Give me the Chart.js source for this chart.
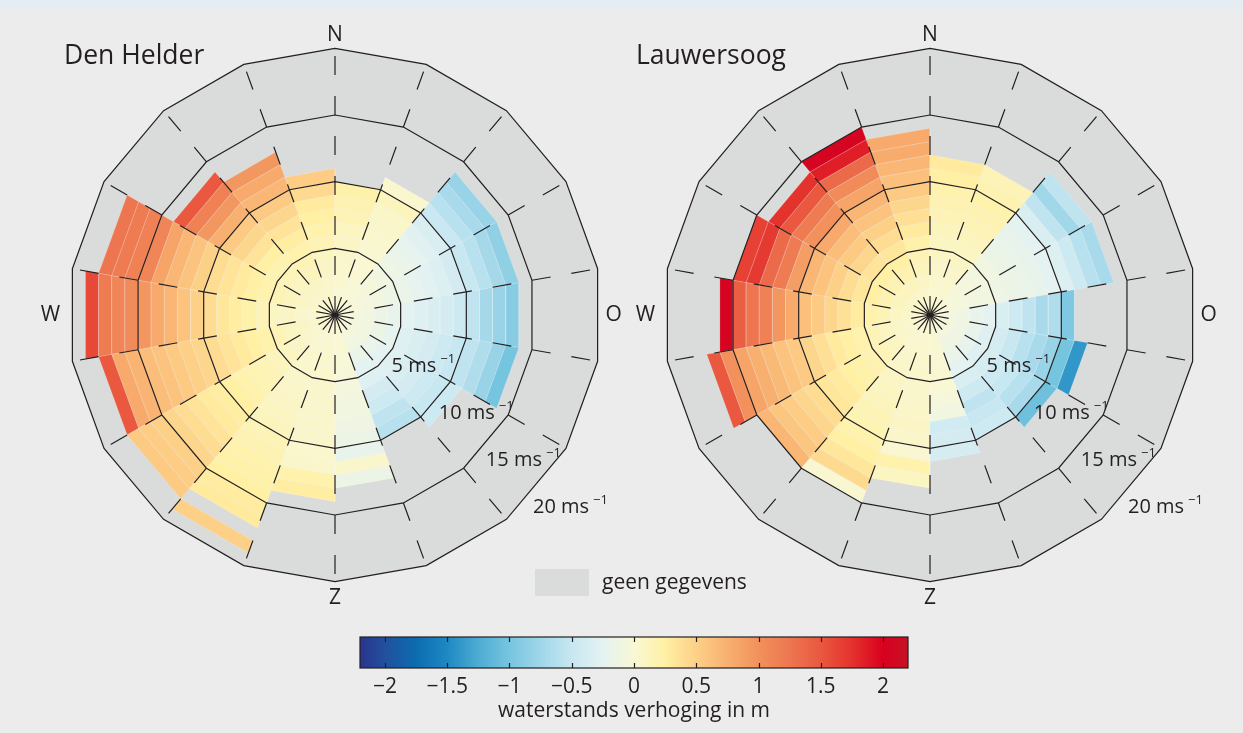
<!DOCTYPE html>
<html lang="nl">
<head>
<meta charset="utf-8">
<title>Waterstandsverhoging naar windrichting en windsnelheid</title>
<script src="https://cdn.jsdelivr.net/npm/chart.js@4.4.1/dist/chart.umd.min.js"></script>
<style>
  html, body { margin: 0; padding: 0; }
  body {
    width: 1243px; height: 733px; position: relative; overflow: hidden;
    background: #ececec; font-family: 'Open Sans', sans-serif; color: #231f20;
  }
  #topband { position: absolute; left: 0; top: 0; width: 1243px; height: 9px; background: #e6edf2; }
  canvas { position: absolute; }
  #rose-dh { left: 35px; top: 15px; }
  #rose-lw { left: 630px; top: 15px; }
  #cbar { left: 300px; top: 540px; }
  #nodata-swatch { position: absolute; left: 535px; top: 569px; width: 54px; height: 27px; background: #dadcdc; }
  #nodata-text { position: absolute; left: 602px; top: 567px; font-size: 21px; line-height: 28px; }
</style>
</head>
<body>
<div id="topband"></div>
<canvas id="rose-dh" width="600" height="600"></canvas>
<canvas id="rose-lw" width="600" height="600"></canvas>
<canvas id="cbar" width="660" height="193"></canvas>
<div id="nodata-swatch"></div>
<div id="nodata-text">geen gegevens</div>
<script>
// Wind sectors (start bearing in degrees, clockwise from north), 20 degrees wide
const sectorStartDeg = [0, 20, 40, 60, 80, 100, 120, 140, 160, 180, 200, 220, 240, 260, 280, 300, 320, 340];
const sectorWidthDeg = 20;
// Wind speed rings (m/s) and outer limit of the rose
const speedRings = [5, 10, 15, 20];
const maxSpeed = 20;
// Compass labels (Dutch: Noord, Oost, Zuid, West)
const compassPoints = ['N', 'O', 'Z', 'W'];
const compassDeg = [0, 90, 180, 270];
// Colour bar
const colorbarTicks = [-2, -1.5, -1, -0.5, 0, 0.5, 1, 1.5, 2];
const colorbarMin = -2.2;
const colorbarMax = 2.2;

// Mean water level rise (m) per sector; entry i is the 1 m/s speed bin [i, i+1).
// null = no observations in that bin.
const denHelder = [
  [0.02, 0.02, 0.03, 0.04, 0.05, 0.08, 0.1, 0.15, 0.18, 0.22],
  [0, 0, 0, 0.01, 0.01, 0.02, 0.03, 0.05, 0.07, 0.12, 0.03],
  [0, -0.02, -0.04, -0.06, -0.1, -0.14, -0.18, -0.22, -0.28, -0.35, -0.48, -0.6, -0.7, -0.8],
  [0, -0.03, -0.06, -0.1, -0.14, -0.18, -0.22, -0.27, -0.32, -0.4, -0.5, -0.6, -0.72, -0.85],
  [-0.02, -0.05, -0.1, -0.15, -0.2, -0.25, -0.3, -0.35, -0.4, -0.45, -0.55, -0.72, -0.8, -0.9],
  [-0.02, -0.06, -0.1, -0.15, -0.22, -0.3, -0.35, -0.4, -0.45, -0.5, -0.55, -0.65, -0.8, -1.0],
  [-0.02, -0.05, -0.1, -0.18, -0.25, -0.3, -0.35, -0.4, -0.45, -0.5, -0.45],
  [-0.02, -0.05, -0.1, -0.18, -0.25, -0.3, -0.4, -0.45, -0.55, -0.6],
  [0, 0, 0, -0.02, -0.04, -0.06, -0.08, -0.1, -0.12, -0.15, -0.2, 0.05, -0.15],
  [0.02, 0.02, 0.03, 0.03, 0.04, 0.05, 0.05, 0.05, 0.05, 0.05, 0.04, 0.05, 0.2, 0.27],
  [0.01, 0.02, 0.02, 0.03, 0.04, 0.05, 0.06, 0.08, 0.1, 0.12, 0.15, 0.18, 0.2, 0.22, 0.25, 0.28, 0.3, null, 0.5],
  [0.02, 0.03, 0.05, 0.08, 0.1, 0.12, 0.15, 0.17, 0.2, 0.25, 0.27, 0.3, 0.35, 0.4, 0.45, 0.5, 0.52, 0.55],
  [0.03, 0.05, 0.08, 0.1, 0.15, 0.2, 0.25, 0.3, 0.35, 0.4, 0.45, 0.5, 0.55, 0.6, 0.65, 0.72, 0.8, 1.5],
  [0.02, 0.03, 0.05, 0.08, 0.1, 0.15, 0.22, 0.27, 0.33, 0.4, 0.5, 0.6, 0.7, 0.8, 0.95, 1.05, 1.1, 1.2, 1.6],
  [0.03, 0.05, 0.08, 0.12, 0.15, 0.2, 0.25, 0.3, 0.35, 0.4, 0.5, 0.6, 0.7, 0.85, 1.1, 1.15, 1.2, 1.25],
  [0.03, 0.05, 0.08, 0.1, 0.14, 0.18, 0.25, 0.35, 0.45, 0.55, 0.75, 0.95, 1.15, 1.5],
  [0.03, 0.05, 0.08, 0.12, 0.15, 0.2, 0.27, 0.35, 0.45, 0.55, 0.7, 0.8, 0.95],
  [0.03, 0.05, 0.06, 0.08, 0.1, 0.15, 0.2, 0.25, 0.3, 0.42, 0.52]
];

const lauwersoog = [
  [0.02, 0.03, 0.04, 0.06, 0.08, 0.1, 0.12, 0.15, 0.18, 0.2, 0.25, 0.3],
  [0.02, 0.03, 0.04, 0.06, 0.08, 0.1, 0.12, 0.15, 0.18, 0.2, 0.18, 0.15],
  [0, -0.02, -0.04, -0.06, -0.08, -0.1, -0.15, -0.18, -0.2, -0.25, -0.35, -0.55, -0.75, -0.55],
  [0, -0.03, -0.05, -0.08, -0.1, -0.13, -0.15, -0.18, -0.2, -0.25, -0.32, -0.45, -0.6, -0.7],
  [-0.02, -0.06, -0.12, -0.2, -0.25, -0.35, -0.45, -0.55, -0.7, -0.65, -0.95],
  [-0.02, -0.06, -0.12, -0.2, -0.3, -0.4, -0.5, -0.6, -0.7, -0.8, -1.0, -1.4],
  [-0.02, -0.06, -0.12, -0.2, -0.3, -0.38, -0.45, -0.5, -0.6, -0.7, -1.05],
  [-0.02, -0.06, -0.12, -0.18, -0.25, -0.35, -0.45, -0.55, -0.5, -0.45],
  [0.02, 0.02, 0.02, 0.02, 0.02, 0, -0.05, -0.1, -0.42, -0.4, -0.38],
  [0.02, 0.03, 0.03, 0.04, 0.05, 0.05, 0.06, 0.07, 0.08, 0.06, 0.02, 0.2, 0.1],
  [0.01, 0.02, 0.03, 0.05, 0.06, 0.08, 0.1, 0.12, 0.15, 0.17, 0.2, 0.25, 0.32, 0.42, 0.02],
  [0.02, 0.04, 0.07, 0.1, 0.14, 0.18, 0.22, 0.25, 0.3, 0.33, 0.4, 0.45, 0.52, 0.58, 0.7],
  [0.02, 0.04, 0.07, 0.1, 0.15, 0.2, 0.25, 0.3, 0.38, 0.45, 0.55, 0.6, 0.68, 0.75, 0.85, 1.0, 1.5],
  [0.03, 0.06, 0.1, 0.15, 0.2, 0.28, 0.37, 0.45, 0.55, 0.62, 0.8, 0.95, 1.15, 1.25, 1.45, 2.05],
  [0.03, 0.07, 0.12, 0.18, 0.25, 0.32, 0.4, 0.5, 0.6, 0.7, 0.9, 1.2, 1.35, 1.7, 1.65],
  [0.03, 0.07, 0.12, 0.18, 0.25, 0.35, 0.45, 0.55, 0.65, 0.8, 1.0, 1.2, 1.5, 1.75],
  [0.03, 0.07, 0.12, 0.18, 0.25, 0.32, 0.4, 0.5, 0.6, 0.7, 0.85, 1.05, 1.35, 1.85, 2.05],
  [0.03, 0.05, 0.08, 0.12, 0.15, 0.22, 0.3, 0.38, 0.45, 0.55, 0.62, 0.7, 0.78, 0.8]
];

// Diverging colour scale: blue (lowering) - pale yellow - red (raising)
const surgeColorStops = [
  [-2.2, [42, 52, 140]],
  [-2.0, [33, 80, 158]],
  [-1.75, [12, 108, 176]],
  [-1.5, [30, 137, 194]],
  [-1.25, [78, 172, 211]],
  [-1.0, [118, 197, 223]],
  [-0.75, [160, 215, 233]],
  [-0.5, [199, 231, 241]],
  [-0.25, [228, 242, 241]],
  [0, [249, 248, 213]],
  [0.25, [255, 240, 163]],
  [0.5, [253, 208, 136]],
  [0.75, [248, 176, 112]],
  [1.0, [242, 145, 92]],
  [1.25, [237, 118, 80]],
  [1.5, [233, 88, 63]],
  [1.75, [228, 50, 45]],
  [2.0, [218, 0, 30]],
  [2.2, [198, 18, 38]]
];

const INK = '#231f20';
const NO_DATA_GREY = '#dadbdb';
const COLORBAR_HEIGHT = 31;
// Distance (in m/s units) at which each compass letter is centred
const compassLabelRadius = [21.0, 20.9, 21.2, 21.35];

function rgb(c) { return 'rgb(' + c.map(Math.round).join(',') + ')'; }

function surgeColor(v) {
  const s = surgeColorStops;
  if (v <= s[0][0]) return rgb(s[0][1]);
  for (let i = 1; i < s.length; i++) {
    if (v <= s[i][0]) {
      const [v0, c0] = s[i - 1];
      const [v1, c1] = s[i];
      const t = (v - v0) / (v1 - v0);
      return rgb(c0.map((c, k) => c + (c1[k] - c) * t));
    }
  }
  return rgb(s[s.length - 1][1]);
}

// Wind speed + bearing -> x/y in m/s units (north up, east right)
function polar(speed, deg) {
  const a = deg * Math.PI / 180;
  return { x: speed * Math.sin(a), y: speed * Math.cos(a) };
}

function closedRing(speed) {
  return sectorStartDeg.concat([360]).map(d => polar(speed, d));
}

function buildRoseDatasets(table) {
  const sets = [];
  // Speed rings and dashed sector boundaries, drawn on top
  speedRings.forEach(v => sets.push({
    data: closedRing(v), showLine: true, fill: false,
    borderColor: INK, borderWidth: 1.2, pointRadius: 0, order: 0
  }));
  sectorStartDeg.forEach(d => sets.push({
    data: [polar(0, d), polar(maxSpeed, d)], showLine: true, fill: false,
    borderColor: INK, borderWidth: 1.2, borderDash: [19, 21], pointRadius: 0, order: 0
  }));
  // One cell per sector and speed bin
  table.forEach((bins, s) => {
    const a0 = sectorStartDeg[s];
    const a1 = a0 + sectorWidthDeg;
    bins.forEach((val, b) => {
      if (val === null) return;
      sets.push({
        data: [polar(b, a0), polar(b + 1, a0), polar(b + 1, a1), polar(b, a1), polar(b, a0)],
        showLine: true, fill: 'shape', backgroundColor: surgeColor(val),
        borderColor: 'rgba(255,255,255,0.28)', borderWidth: 0.6, pointRadius: 0, order: 1
      });
    });
  });
  // "geen gegevens" background up to the outer ring
  sets.push({
    data: closedRing(maxSpeed), showLine: true, fill: 'shape',
    backgroundColor: NO_DATA_GREY, borderColor: 'rgba(0,0,0,0)', borderWidth: 1,
    pointRadius: 0, order: 2
  });
  return sets;
}

const roseLabels = {
  id: 'roseLabels',
  afterDatasetsDraw(chart, args, opts) {
    const { ctx, scales: { x, y } } = chart;
    const px = p => ({ x: x.getPixelForValue(p.x), y: y.getPixelForValue(p.y) });
    ctx.save();
    ctx.fillStyle = INK;
    // Station name
    ctx.font = '26.5px "Open Sans"';
    ctx.textAlign = 'left';
    ctx.textBaseline = 'alphabetic';
    ctx.fillText(opts.title, opts.titleX, opts.titleY);
    // Compass points
    ctx.font = '21px "Open Sans"';
    ctx.textAlign = 'center';
    ctx.textBaseline = 'middle';
    compassPoints.forEach((t, i) => {
      const p = px(polar(compassLabelRadius[i], compassDeg[i]));
      ctx.fillText(t, p.x, p.y);
    });
    // Speed ring labels along the south-east diagonal
    ctx.textAlign = 'left';
    ctx.textBaseline = 'alphabetic';
    speedRings.forEach(v => {
      const p = px(polar(v + 1, 135));
      const main = v + ' ms';
      ctx.font = '20px "Open Sans"';
      ctx.fillText(main, p.x, p.y);
      const w = ctx.measureText(main).width;
      ctx.font = '13px "Open Sans"';
      ctx.fillText('\u22121', p.x + w + 4, p.y - 9);
    });
    ctx.restore();
  }
};

function makeRose(id, table, title, titleX, titleY) {
  return new Chart(document.getElementById(id), {
    type: 'scatter',
    data: { datasets: buildRoseDatasets(table) },
    options: {
      responsive: false,
      animation: false,
      events: [],
      layout: { padding: 0 },
      elements: { line: { tension: 0 } },
      scales: {
        x: { type: 'linear', min: -22.5, max: 22.5, display: false },
        y: { type: 'linear', min: -22.5, max: 22.5, display: false }
      },
      plugins: {
        legend: { display: false },
        tooltip: { enabled: false },
        roseLabels: { title, titleX, titleY }
      }
    },
    plugins: [roseLabels]
  });
}

makeRose('rose-dh', denHelder, 'Den Helder', 29, 49);
makeRose('rose-lw', lauwersoog, 'Lauwersoog', 6, 49);

// Colour bar: gradient strip sitting on the library's x axis (ticks + title)
const colorbarPaint = {
  id: 'colorbarPaint',
  beforeDatasetsDraw(chart) {
    const { ctx, chartArea: { left, right, bottom }, scales: { x } } = chart;
    const top = bottom - COLORBAR_HEIGHT;
    const g = ctx.createLinearGradient(left, 0, right, 0);
    surgeColorStops.forEach(([v, c]) => {
      const t = Math.min(1, Math.max(0, (x.getPixelForValue(v) - left) / (right - left)));
      g.addColorStop(t, rgb(c));
    });
    ctx.save();
    ctx.fillStyle = g;
    ctx.fillRect(left, top, right - left, bottom - top);
    ctx.strokeStyle = INK;
    ctx.lineWidth = 1.2;
    colorbarTicks.forEach(v => {
      const xp = Math.round(x.getPixelForValue(v)) + 0.5;
      ctx.beginPath();
      ctx.moveTo(xp, top); ctx.lineTo(xp, top + 5);
      ctx.moveTo(xp, bottom); ctx.lineTo(xp, bottom - 5);
      ctx.stroke();
    });
    ctx.strokeRect(left, top, right - left, bottom - top);
    ctx.restore();
  }
};

new Chart(document.getElementById('cbar'), {
  type: 'scatter',
  data: { datasets: [] },
  options: {
    responsive: false,
    animation: false,
    events: [],
    layout: { padding: { left: 60, right: 52, top: 0, bottom: 0 } },
    scales: {
      x: {
        type: 'linear', min: colorbarMin, max: colorbarMax, position: 'bottom',
        afterBuildTicks: s => { s.ticks = colorbarTicks.map(v => ({ value: v })); },
        afterFit: s => { s.height = 65; },
        grid: { display: false, drawTicks: false },
        border: { display: false },
        ticks: {
          font: { family: 'Open Sans', size: 21 }, color: INK, padding: 6.5,
          maxRotation: 0, autoSkip: false,
          callback: v => String(v).replace('-', '\u2212')
        },
        title: {
          display: true, text: 'waterstands verhoging in m',
          font: { family: 'Open Sans', size: 21 }, color: INK, padding: { top: 0, bottom: 9.4 }
        }
      },
      y: { type: 'linear', min: 0, max: 1, display: false }
    },
    plugins: { legend: { display: false }, tooltip: { enabled: false } }
  },
  plugins: [colorbarPaint]
});
</script>
</body>
</html>
